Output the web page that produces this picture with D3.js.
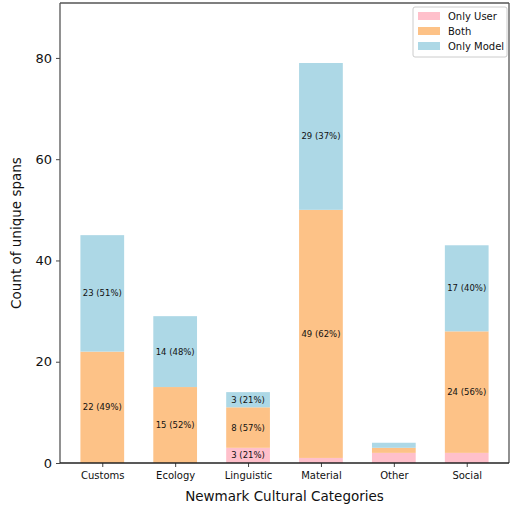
<!DOCTYPE html>
<html><head><meta charset="utf-8">
<script src="https://cdn.jsdelivr.net/npm/d3@7"></script>
<style>body{margin:0;background:#fff}svg{display:block;font-family:"DejaVu Sans",sans-serif}</style>
</head><body><svg id="c" width="512" height="506"></svg>
<script>
const categories = ["Customs","Ecology","Linguistic","Material","Other","Social"];
const onlyUser  = [0, 0, 3, 1, 2, 2];
const both      = [22, 15, 8, 49, 1, 24];
const onlyModel = [23, 14, 3, 29, 1, 17];
const seriesNames = ["Only User","Both","Only Model"];
const colors = ["#ffc0cb","#fdc287","#add8e6"];
const yTicks = [0,20,40,60,80];

const svg = d3.select("#c");
const L=60, R=509, T=3, B=463;
const totals = categories.map((c,i)=>onlyUser[i]+both[i]+onlyModel[i]);
const ymax = d3.max(totals)*1.15;
const y = d3.scaleLinear().domain([0,ymax]).range([B,T]);
const bw = 0.6;
const x = d3.scaleLinear().domain([-0.3-0.05*(categories.length-1+bw), categories.length-1+0.3+0.05*(categories.length-1+bw)]).range([L,R]);
const seriesData=[onlyUser,both,onlyModel];

const g = svg.append("g");
categories.forEach((c,i)=>{
  let base=0;
  seriesData.forEach((s,k)=>{
    const v=s[i];
    if(v>0){
      g.append("rect").attr("x",x(i-bw/2)).attr("width",x(i+bw/2)-x(i-bw/2))
        .attr("y",y(base+v)).attr("height",y(base)-y(base+v)).attr("fill",colors[k]);
      if(v>=3){
        const pct=Math.round(v/totals[i]*100);
        g.append("text").attr("x",x(i)).attr("y",y(base+v/2)).attr("dy","0.35em")
          .attr("text-anchor","middle").attr("font-size","8.5px").attr("fill","#111")
          .text(`${v} (${pct}%)`);
      }
    }
    base+=v;
  });
});

// axes
const ya = svg.append("g").attr("transform",`translate(${L},0)`)
  .call(d3.axisLeft(y).tickValues(yTicks).tickSize(4).tickPadding(4));
ya.select(".domain").remove();
ya.selectAll("text").attr("font-size","13px").attr("fill","#111").attr("font-family","DejaVu Sans");
ya.selectAll("line").attr("stroke","#444");
const xa = svg.append("g").attr("transform",`translate(0,${B})`)
  .call(d3.axisBottom(x).tickValues(d3.range(categories.length)).tickFormat(i=>categories[i]).tickSize(4).tickPadding(5));
xa.select(".domain").remove();
xa.selectAll("text").attr("font-size","10px").attr("fill","#111").attr("font-family","DejaVu Sans");
xa.selectAll("line").attr("stroke","#444");

// spines
svg.append("line").attr("x1",L).attr("x2",L).attr("y1",T).attr("y2",B).attr("stroke","#555").attr("stroke-width",1.3);
svg.append("line").attr("x1",L).attr("x2",R).attr("y1",T).attr("y2",T).attr("stroke","#555").attr("stroke-width",1.3);
svg.append("line").attr("x1",R).attr("x2",R).attr("y1",T).attr("y2",B).attr("stroke","#555").attr("stroke-width",1.3);
svg.append("line").attr("x1",L).attr("x2",R).attr("y1",B).attr("y2",B).attr("stroke","#222").attr("stroke-width",1.3);

// axis labels
svg.append("text").attr("x",(L+R)/2).attr("y",501).attr("text-anchor","middle").attr("font-size","13.5px").attr("fill","#111").text("Newmark Cultural Categories");
svg.append("text").attr("transform",`translate(21,${(T+B)/2}) rotate(-90)`).attr("text-anchor","middle").attr("font-size","13.5px").attr("fill","#111").text("Count of unique spans");

// legend
const lg = svg.append("g").attr("transform","translate(413,7)");
lg.append("rect").attr("width",94).attr("height",50).attr("rx",2).attr("fill","#fff").attr("stroke","#ccc");
seriesNames.forEach((n,k)=>{
  lg.append("rect").attr("x",5).attr("y",5+k*15).attr("width",22).attr("height",8).attr("fill",colors[k]);
  lg.append("text").attr("x",35).attr("y",9+k*15).attr("dy","0.35em").attr("font-size","10px").attr("fill","#111").text(n);
});
</script></body></html>
